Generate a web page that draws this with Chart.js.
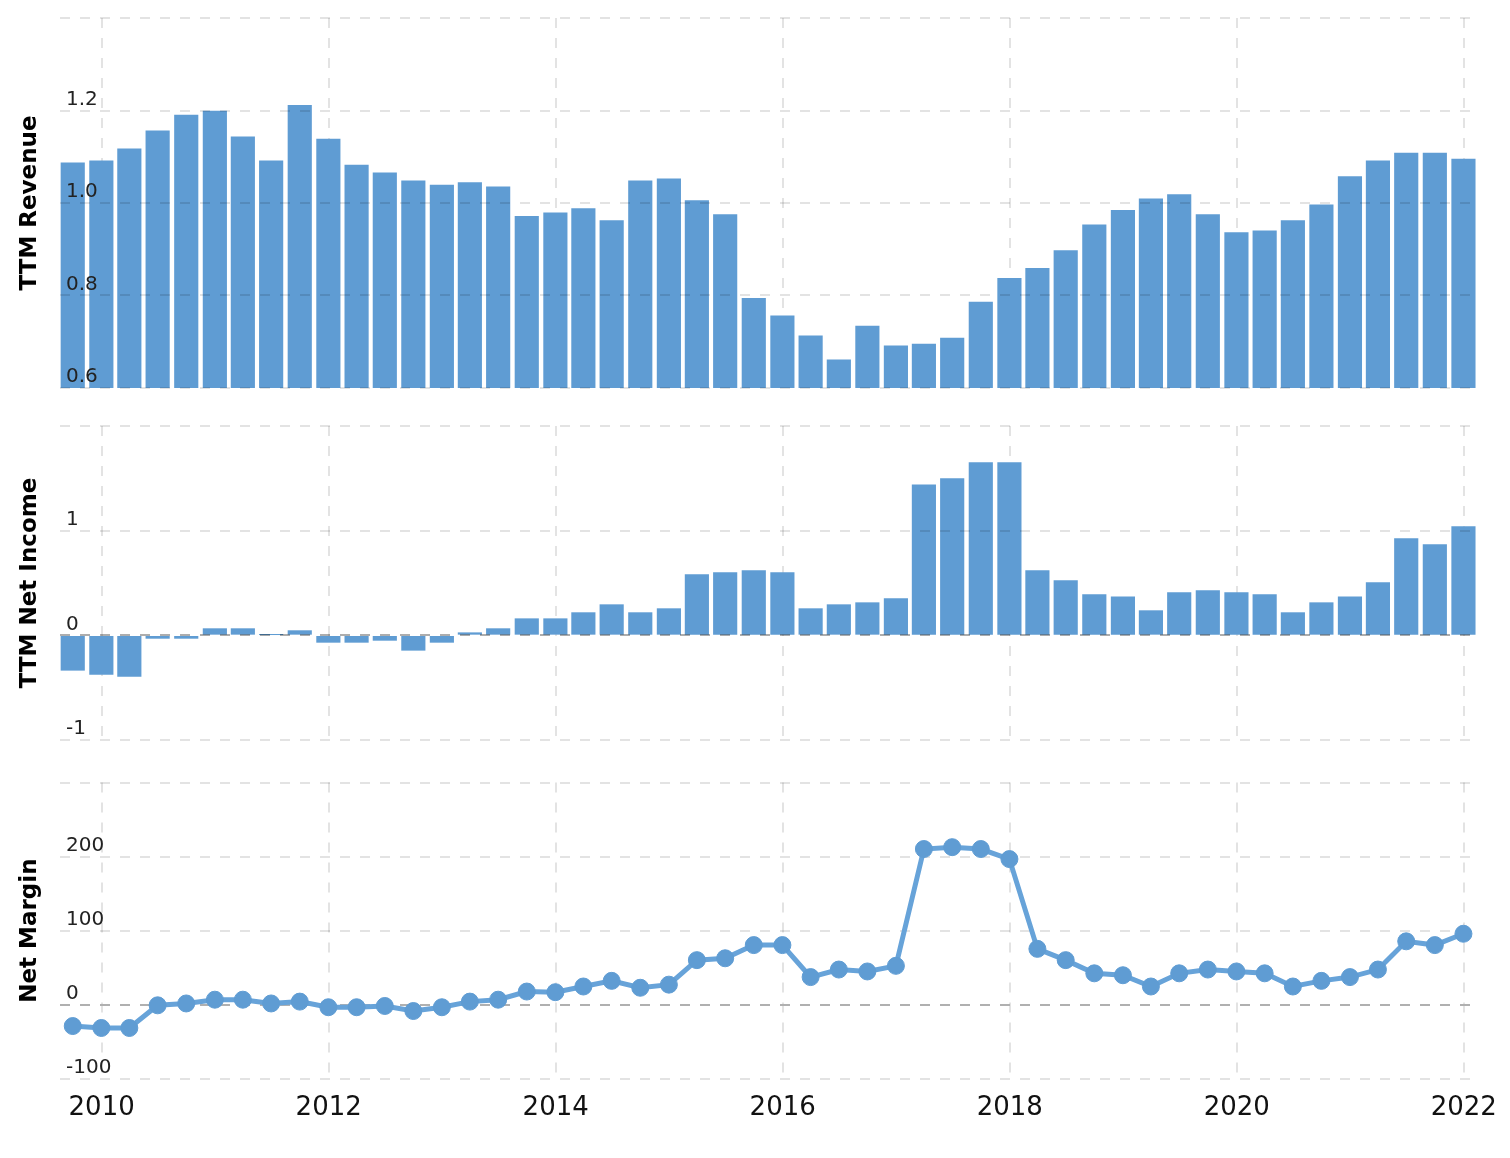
<!DOCTYPE html>
<html>
<head>
<meta charset="utf-8">
<script src="https://cdn.jsdelivr.net/npm/chart.js@4.4.1/dist/chart.umd.min.js"></script>
<style>
html, body { margin: 0; padding: 0; background: #ffffff; }
canvas.panel { position: absolute; left: 0; }
</style>
</head>
<body>
<canvas id="revChart" class="panel" width="1510" height="380" style="top:13px"></canvas>
<canvas id="niChart" class="panel" width="1510" height="324" style="top:421px"></canvas>
<canvas id="nmChart" class="panel" width="1510" height="371" style="top:773px"></canvas>
<script>
// ---------- data ----------
const quarterEnds = [
  "2009-09-30","2009-12-31",
  "2010-03-31","2010-06-30","2010-09-30","2010-12-31",
  "2011-03-31","2011-06-30","2011-09-30","2011-12-31",
  "2012-03-31","2012-06-30","2012-09-30","2012-12-31",
  "2013-03-31","2013-06-30","2013-09-30","2013-12-31",
  "2014-03-31","2014-06-30","2014-09-30","2014-12-31",
  "2015-03-31","2015-06-30","2015-09-30","2015-12-31",
  "2016-03-31","2016-06-30","2016-09-30","2016-12-31",
  "2017-03-31","2017-06-30","2017-09-30","2017-12-31",
  "2018-03-31","2018-06-30","2018-09-30","2018-12-31",
  "2019-03-31","2019-06-30","2019-09-30","2019-12-31",
  "2020-03-31","2020-06-30","2020-09-30","2020-12-31",
  "2021-03-31","2021-06-30","2021-09-30","2021-12-31"
];
const ttmRevenue = [
  1.087, 1.091,
  1.117, 1.156, 1.190, 1.199,
  1.143, 1.091, 1.211, 1.138,
  1.082, 1.065, 1.048, 1.039,
  1.044, 1.035, 0.971, 0.979,
  0.988, 0.962, 1.048, 1.052,
  1.005, 0.975, 0.794, 0.756,
  0.713, 0.661, 0.734, 0.691,
  0.695, 0.708, 0.786, 0.837,
  0.859, 0.897, 0.953, 0.984,
  1.009, 1.018, 0.975, 0.936,
  0.940, 0.962, 0.996, 1.057,
  1.091, 1.108, 1.108, 1.095
];
const ttmNetIncome = [
  -0.334, -0.373,
  -0.392, -0.029, -0.029, 0.064,
  0.064, 0.006, 0.045, -0.067,
  -0.067, -0.048, -0.143, -0.067,
  0.025, 0.064, 0.159, 0.159,
  0.217, 0.293, 0.217, 0.255,
  0.580, 0.599, 0.618, 0.599,
  0.255, 0.293, 0.312, 0.350,
  1.439, 1.497, 1.650, 1.650,
  0.618, 0.522, 0.389, 0.369,
  0.236, 0.408, 0.427, 0.408,
  0.389, 0.217, 0.312, 0.369,
  0.503, 0.924, 0.866, 1.038
];
const netMargin = [
  -28.8, -31.4,
  -31.4, -0.8, 1.7, 6.8,
  6.8, 1.7, 4.2, -3.4,
  -3.4, -1.7, -8.5, -3.4,
  4.2, 6.8, 17.8, 16.9,
  24.6, 32.2, 22.9, 27.1,
  60.2, 62.7, 80.5, 80.5,
  37.3, 47.5, 44.9, 52.5,
  210.2, 212.7, 210.2, 196.6,
  75.4, 60.2, 42.4, 39.8,
  24.6, 42.4, 47.5, 44.9,
  42.4, 24.6, 32.2, 37.3,
  47.5, 85.6, 80.5, 95.8
];
const yearTicks = [2010, 2012, 2014, 2016, 2018, 2020, 2022];
const yearTickLabels = ["2010", "2012", "2014", "2016", "2018", "2020", "2022"];
const revenueTicks = [0.6, 0.8, 1.0, 1.2, 1.4];
const revenueTickLabels = ["0.6", "0.8", "1.0", "1.2", ""];
const netIncomeTicks = [-1, 0, 1, 2];
const netIncomeTickLabels = ["-1", "0", "1", ""];
const marginTicks = [-100, 0, 100, 200, 300];
const marginTickLabels = ["-100", "0", "100", "200", ""];
const axisTitles = ["TTM Revenue", "TTM Net Income", "Net Margin"];

// ---------- helpers ----------
function fractionalYear(s) {
  const p = s.split("-").map(Number);
  const t = Date.UTC(p[0], p[1] - 1, p[2]);
  const a = Date.UTC(p[0], 0, 1), b = Date.UTC(p[0] + 1, 0, 1);
  return p[0] + (t - a) / (b - a);
}
const xs = quarterEnds.map(fractionalYear);
const pts = vals => vals.map((v, i) => ({ x: xs[i], y: v }));

const BAR = "#5f9cd3";
const LINE = "#67a3d9";
const GRID = "rgba(0,0,0,0.11)";
const FONT = "'DejaVu Sans', Verdana, sans-serif";

function xScale(showLabels) {
  return {
    type: "linear",
    min: 2009.633,
    max: 2022.055,
    offset: false,
    afterBuildTicks: s => { s.ticks = yearTicks.map(v => ({ value: v })); },
    afterFit: s => { s.paddingLeft = 0; s.paddingRight = 0; },
    ticks: {
      display: showLabels,
      padding: 14,
      color: "#111",
      font: { family: FONT, size: 26 },
      maxRotation: 0,
      autoSkip: false,
      callback: (v, i) => yearTickLabels[i]
    },
    grid: { display: true, offset: false, color: GRID, lineWidth: 2, drawTicks: false },
    border: { display: false, dash: [10, 10] }
  };
}

function yScale(min, max, ticks, labels, title, zeroColor, layerZ) {
  return {
    type: "linear",
    position: "left",
    z: layerZ,
    min: min,
    max: max,
    afterBuildTicks: s => { s.ticks = ticks.map(v => ({ value: v })); },
    afterFit: s => { s.width = 60; s.paddingTop = 0; s.paddingBottom = 0; },
    ticks: {
      z: layerZ,
      mirror: true,
      padding: 6,
      labelOffset: -11,
      color: "#222",
      font: { family: FONT, size: 20 },
      callback: (v, i) => labels[i]
    },
    grid: {
      z: layerZ,
      drawTicks: false,
      lineWidth: 2,
      color: c => (zeroColor && c.tick && c.tick.value === 0) ? zeroColor : GRID
    },
    border: { display: false, dash: [10, 10] },
    title: {
      display: true,
      text: title,
      color: "#000",
      font: { family: FONT, size: 23, weight: "bold" },
      padding: { top: 16, bottom: 0 }
    }
  };
}

const common = {
  responsive: false,
  animation: false,
  devicePixelRatio: 1,
  events: [],
  plugins: { legend: { display: false }, tooltip: { enabled: false } }
};

const barClip = { left: 5, top: 5, right: 12, bottom: 0 };

new Chart(document.getElementById("revChart"), {
  type: "bar",
  data: { datasets: [{ data: pts(ttmRevenue), backgroundColor: BAR, barThickness: 23.5, clip: barClip }] },
  options: Object.assign({}, common, {
    layout: { padding: { top: 5, bottom: 5, left: 0, right: 40 } },
    scales: {
      x: xScale(false),
      y: yScale(0.6, 1.4, revenueTicks, revenueTickLabels, axisTitles[0], null, 1)
    }
  })
});

new Chart(document.getElementById("niChart"), {
  type: "bar",
  data: { datasets: [{ data: pts(ttmNetIncome), backgroundColor: BAR, barThickness: 23.5, clip: barClip }] },
  options: Object.assign({}, common, {
    layout: { padding: { top: 5, bottom: 5, left: 0, right: 40 } },
    scales: {
      x: xScale(false),
      y: yScale(-1, 2, netIncomeTicks, netIncomeTickLabels, axisTitles[1], "rgba(0,0,0,0.32)", 1)
    }
  })
});

new Chart(document.getElementById("nmChart"), {
  type: "line",
  data: { datasets: [{
    data: pts(netMargin),
    borderColor: LINE,
    borderWidth: 5,
    backgroundColor: BAR,
    pointBackgroundColor: BAR,
    pointBorderColor: BAR,
    pointBorderWidth: 1,
    pointRadius: 8.5,
    tension: 0,
    clip: false
  }] },
  options: Object.assign({}, common, {
    layout: { padding: { top: 5, bottom: 6, left: 0, right: 40 } },
    scales: {
      x: xScale(true),
      y: yScale(-100, 300, marginTicks, marginTickLabels, axisTitles[2], "#b0b0b0", 0)
    }
  })
});
</script>
</body>
</html>
